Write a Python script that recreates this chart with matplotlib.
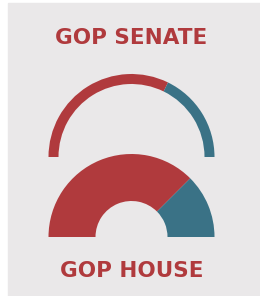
import matplotlib
matplotlib.use("Agg")
import matplotlib.pyplot as plt
from matplotlib.patches import Rectangle

# share of each chamber (GOP, Dem); drawn on a half circle
chambers = ["GOP SENATE", "GOP HOUSE"]
gop_share = [0.645, 0.75]
dem_share = [0.355, 0.25]

RED = "#B03A3D"
BLUE = "#3A7286"
BG = "#EAE8E9"

W, H = 260, 296
fig = plt.figure(figsize=(W / 100, H / 100), dpi=100)
fig.patch.set_facecolor("white")
ax = fig.add_axes([0, 0, 1, 1])
ax.add_patch(Rectangle((8, 0), W - 8, H - 3, color=BG, zorder=0))

cx = 131.5
specs = [
    # center y (from top), outer radius, ring width
    (157, 83, 10),
    (237, 83, 47),
]
for (cy, r, w), g, d in zip(specs, gop_share, dem_share):
    ax.pie(
        [g, d, 1.0],
        colors=[RED, BLUE, "none"],
        startangle=180,
        counterclock=False,
        center=(cx, H - cy),
        radius=r,
        wedgeprops=dict(width=w, linewidth=0),
        frame=True,
    )

ax.set_xlim(0, W)
ax.set_ylim(0, H)
ax.set_aspect("equal")
ax.axis("off")

ax.text(cx, H - 37.5, chambers[0], ha="center", va="center", color=RED,
        fontsize=15.5, fontweight="bold", family="DejaVu Sans")
ax.text(cx, H - 271, chambers[1], ha="center", va="center", color=RED,
        fontsize=15.5, fontweight="bold", family="DejaVu Sans")

fig.savefig("out.png", dpi=100, facecolor="white")
